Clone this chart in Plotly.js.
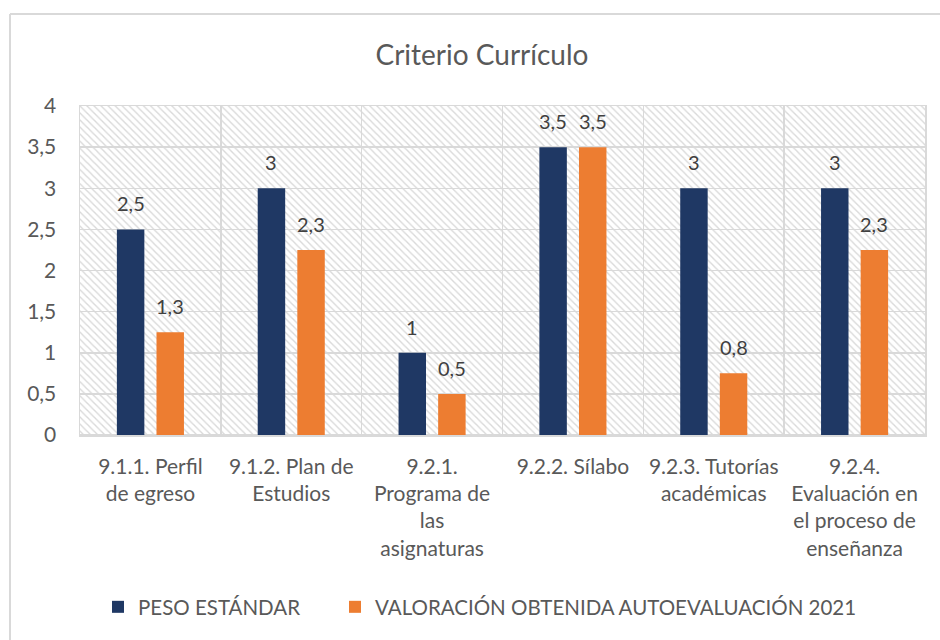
<!DOCTYPE html>
<html>
<head>
<meta charset="utf-8">
<script src="https://cdn.plot.ly/plotly-3.0.1.min.js"></script>
<style>html,body{margin:0;padding:0;background:#fff;}#chart{width:940px;height:640px;}</style>
</head>
<body>
<div id="chart"></div>
<script>
const categories = [
  "9.1.1. Perfil<br>de egreso",
  "9.1.2. Plan de<br>Estudios",
  "9.2.1.<br>Programa de<br>las<br>asignaturas",
  "9.2.2. Sílabo",
  "9.2.3. Tutorías<br>académicas",
  "9.2.4.<br>Evaluación en<br>el proceso de<br>enseñanza"
];
const pesoEstandar = [2.5, 3, 1, 3.5, 3, 3];
const valoracion2021 = [1.25, 2.25, 0.5, 3.5, 0.75, 2.25];
const seriesNames = ["PESO ESTÁNDAR", "VALORACIÓN OBTENIDA AUTOEVALUACIÓN 2021"];
const yMax = 4;

const FONT = "Lato, 'Open Sans', sans-serif";
const barW = 0.195;
const grpOff = 0.1406;

const background = {
  type: "bar",
  x: categories,
  y: categories.map(() => yMax),
  width: 1, offset: -0.5,
  marker: {color: "rgba(0,0,0,0)",
    pattern: {shape: "\\", size: 5, solidity: 0.28, fgcolor: "#d9d9d9", bgcolor: "rgba(0,0,0,0)", fgopacity: 1},
    line: {width: 0}},
  hoverinfo: "skip", showlegend: false
};
const t1 = {
  type: "bar", name: seriesNames[0], x: categories, y: pesoEstandar,
  width: barW, offset: -grpOff - barW/2, legendwidth: 192,
  marker: {color: "#1F3864", line: {width: 0}}
};
const t2 = {
  type: "bar", name: seriesNames[1], x: categories, y: valoracion2021,
  width: barW, offset: grpOff - barW/2,
  marker: {color: "#ED7D31", line: {width: 0}}
};

function fmt(v) { return (Math.round(v * 10) / 10).toString().replace(".", ","); }
const annotations = [];
[[pesoEstandar, -grpOff], [valoracion2021, grpOff]].forEach(([vals, off]) => {
  vals.forEach((v, i) => {
    annotations.push({
      xref: "x", yref: "y", x: i + off, y: v, text: fmt(v),
      showarrow: false, yanchor: "bottom", xanchor: "center", yshift: 12,
      font: {family: FONT, size: 20, color: "#404040"}
    });
  });
});

const frameX = (10 - 80) / 845;
const frameY = (435 - 14) / 329;

const layout = {
  width: 940, height: 640,
  margin: {l: 80, r: 15, t: 106, b: 205},
  paper_bgcolor: "#fff", plot_bgcolor: "#fff",
  separators: ",.",
  barmode: "overlay",
  font: {family: FONT, color: "#595959", size: 18},
  title: {text: "Criterio Currículo", font: {family: FONT, size: 28, color: "#595959"},
    xref: "container", x: 482/940, xanchor: "center", yref: "container", y: 1 - 55/640, yanchor: "middle"},
  xaxis: {type: "category", tickson: "boundaries", showgrid: true, gridcolor: "#d9d9d9", gridwidth: 1.5,
    showline: true, linecolor: "#d9d9d9", linewidth: 1.5, mirror: true, ticks: "", ticklabelstandoff: 12,
    tickfont: {family: FONT, size: 21, color: "#595959"}, tickangle: 0, fixedrange: true},
  yaxis: {range: [0, yMax], dtick: 0.5, tick0: 0, showgrid: true, gridcolor: "#d9d9d9", gridwidth: 1.5,
    zeroline: true, zerolinecolor: "#d9d9d9", zerolinewidth: 1.5,
    showline: true, linecolor: "#d9d9d9", linewidth: 1.5, mirror: true,
    ticks: "", ticklabelstandoff: 18, tickformat: "~r",
    tickfont: {family: FONT, size: 21, color: "#595959"}, fixedrange: true},
  legend: {orientation: "h", xref: "container", yref: "container", x: 98/940, xanchor: "left",
    y: 1 - 607/640, yanchor: "middle", font: {family: FONT, size: 20.5, color: "#595959"},
    itemwidth: 30, traceorder: "normal"},
  annotations: annotations,
  shapes: [
    {type: "line", xref: "paper", yref: "paper", x0: frameX, x1: frameX, y0: -1, y1: frameY,
      line: {color: "#d9d9d9", width: 2}},
    {type: "line", xref: "paper", yref: "paper", x0: frameX, x1: 1.2, y0: frameY, y1: frameY,
      line: {color: "#d9d9d9", width: 2}}
  ],
  showlegend: true
};

Plotly.newPlot("chart", [background, t1, t2], layout, {displayModeBar: false, staticPlot: true});
</script>
</body>
</html>
